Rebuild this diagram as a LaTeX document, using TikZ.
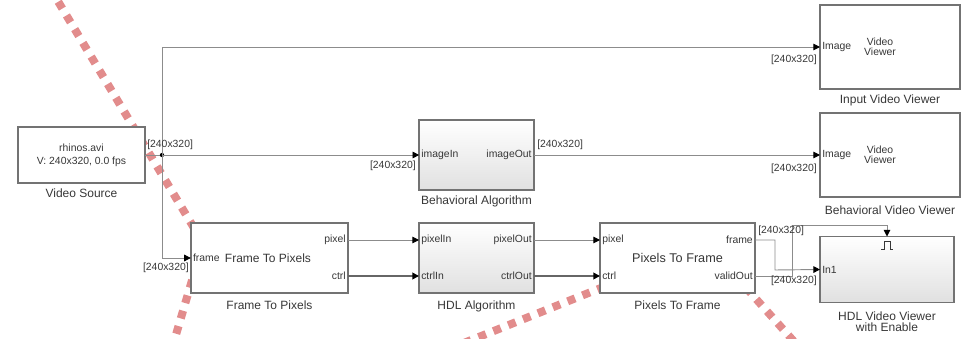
\documentclass[tikz,border=0pt]{standalone}
\usepackage{fontspec}
\setmainfont{Liberation Sans}
\usetikzlibrary{arrows.meta}
\definecolor{dotred}{RGB}{226,140,140}
\definecolor{txtgray}{RGB}{55,55,55}

\begin{document}
\begin{tikzpicture}[x=0.75pt, y=-0.75pt,
    >={Triangle[length=5pt,width=5pt,color=black]},
    blk/.style={draw=black!55, line width=1.1pt, fill=white, inner sep=0pt, outer sep=0pt},
    shadedblk/.style={blk, top color=white, bottom color=black!12},
    portlbl/.style={font=\fontsize{7.8}{9}\selectfont, text=txtgray, inner sep=1.5pt},
    blkname/.style={font=\fontsize{9}{10}\selectfont, text=txtgray, align=center, inner sep=0pt},
    sig/.style={draw=black!45, line width=0.7pt},
    bussig/.style={draw=black!60, line width=1.4pt},
    reddots/.style={draw=dotred, line width=6pt, dash pattern=on 6pt off 6pt}]
    \useasboundingbox (0,0) rectangle (965,339);

    % overlaid dotted strokes
    \begin{scope}
        \clip (0,0) rectangle (965,339);
        \draw[reddots] (50,-12) -- (203,243) -- (170,355);
        \draw[reddots] (434,355) -- (708,245) -- (806,355);
    \end{scope}

    % blocks
    \node[blk, minimum width=95pt, minimum height=42pt, align=center,
        font=\fontsize{7.8}{9.75}\selectfont, text=txtgray] (vs) at (81.5,155)
        {rhinos.avi\\V: 240x320, 0.0 fps};
    \node[blk, minimum width=105pt, minimum height=63pt] (ivv) at (890,47) {};
    \node[blk, minimum width=105pt, minimum height=63pt] (bvv) at (890,155) {};
    \node[shadedblk, minimum width=86pt, minimum height=52.5pt] (ba) at (476.5,155) {};
    \node[blk, minimum width=118pt, minimum height=52.5pt] (fp) at (269.5,258) {};
    \node[shadedblk, minimum width=86pt, minimum height=52.5pt] (hdl) at (476.5,258) {};
    \node[blk, minimum width=116pt, minimum height=52.5pt] (pf) at (677.5,258) {};
    \node[shadedblk, minimum width=100.5pt, minimum height=49.5pt] (hv) at (887,269.5) {};

    % block names
    \node[blkname] (vs-name) at (81.5,193) {Video Source};
    \node[blkname] (ivv-name) at (890,100) {Input Video Viewer};
    \node[blkname] (bvv-name) at (890,210) {Behavioral Video Viewer};
    \node[blkname] (ba-name) at (476.5,201) {Behavioral Algorithm};
    \node[blkname] (fp-name) at (269.5,305) {Frame To Pixels};
    \node[blkname] (hdl-name) at (476.5,306) {HDL Algorithm};
    \node[blkname] (pf-name) at (677.5,305) {Pixels To Frame};
    \node[blkname, font=\fontsize{9}{8.2}\selectfont] (hv-name) at (887,322)
        {HDL Video Viewer\\with Enable};

    % text inside the blocks
    \node[portlbl, right] (ivv-img) at (ivv.west) {Image};
    \node[portlbl, align=center, font=\fontsize{7.8}{7.8}\selectfont] (ivv-txt) at (880,47) {Video\\Viewer};
    \node[portlbl, right] (bvv-img) at (bvv.west) {Image};
    \node[portlbl, align=center, font=\fontsize{7.8}{7.8}\selectfont] (bvv-txt) at (880,155) {Video\\Viewer};
    \node[portlbl, right] (ba-in) at (ba.west) {imageIn};
    \node[portlbl, left] (ba-out) at (ba.east) {imageOut};
    \node[portlbl, right] (fp-frm) at (fp.west) {frame};
    \node[portlbl] (fp-txt) at (268,258) {\fontsize{9}{10}\selectfont Frame To Pixels};
    \node[portlbl, left] (fp-pixl) at (348,240) {pixel};
    \node[portlbl, left] (fp-ctrll) at (348,276) {ctrl};
    \node[portlbl, right] (hdl-pixinl) at (419,240) {pixelIn};
    \node[portlbl, right] (hdl-ctrlinl) at (419,276) {ctrlIn};
    \node[portlbl, left] (hdl-pixoutl) at (534,240) {pixelOut};
    \node[portlbl, left] (hdl-ctrloutl) at (534,276) {ctrlOut};
    \node[portlbl, right] (pf-pixl) at (600,240) {pixel};
    \node[portlbl, right] (pf-ctrll) at (600,276) {ctrl};
    \node[portlbl, left] (pf-frml) at (755,240) {frame};
    \node[portlbl, left] (pf-validl) at (755,276) {validOut};
    \node[portlbl] (pf-txt) at (677.5,258) {\fontsize{9.5}{10}\selectfont Pixels To Frame};
    \node[portlbl, right] (hv-in) at (hv.west) {In1};
    \draw[txtgray, line width=0.6pt] (881,249) -- (884,249) -- (884,241)
        -- (890,241) -- (890,249) -- (893,249);

    % port points
    \coordinate (br) at (162,155);
    \coordinate (fp-pix) at (348,240);
    \coordinate (fp-ctrl) at (348,276);
    \coordinate (hdl-pixin) at (419,240);
    \coordinate (hdl-ctrlin) at (419,276);
    \coordinate (hdl-pixout) at (534,240);
    \coordinate (hdl-ctrlout) at (534,276);
    \coordinate (pf-pix) at (600,240);
    \coordinate (pf-ctrl) at (600,276);
    \coordinate (pf-frame) at (755,240);
    \coordinate (pf-valid) at (755,276);
    \coordinate (fr-turn) at (775,270);
    \coordinate (en-turn) at (792,225);

    % signals
    \draw[sig] (vs.east) -- (br);
    \fill[black] (br) circle (1.6pt);
    \draw[sig, ->] (br) |- (ivv.west);
    \draw[sig, ->] (br) -- (ba.west);
    \draw[sig, ->] (br) |- (fp.west);
    \draw[sig, ->] (ba.east) -- (bvv.west);
    \draw[sig, ->] (fp-pix) -- (hdl-pixin);
    \draw[bussig, ->] (fp-ctrl) -- (hdl-ctrlin);
    \draw[sig, ->] (hdl-pixout) -- (pf-pix);
    \draw[bussig, ->] (hdl-ctrlout) -- (pf-ctrl);
    \draw[sig, ->] (pf-frame) -| (fr-turn) -- (hv.west);
    \draw[sig, ->] (pf-valid) -| (en-turn) -| (hv.north);

    % signal sizes
    \node[portlbl, right] (sz-vs) at (145,145) {[240x320]};
    \node[portlbl, left] (sz-ivv) at (819,60) {[240x320]};
    \node[portlbl, left] (sz-bvv) at (819,169) {[240x320]};
    \node[portlbl, left] (sz-ba-in) at (418,166) {[240x320]};
    \node[portlbl, right] (sz-ba-out) at (535,145) {[240x320]};
    \node[portlbl, left] (sz-fp) at (191,268) {[240x320]};
    \node[portlbl, right] (sz-pf) at (756,231) {[240x320]};
    \node[portlbl, left] (sz-hv) at (819,281) {[240x320]};
\end{tikzpicture}
\end{document}
